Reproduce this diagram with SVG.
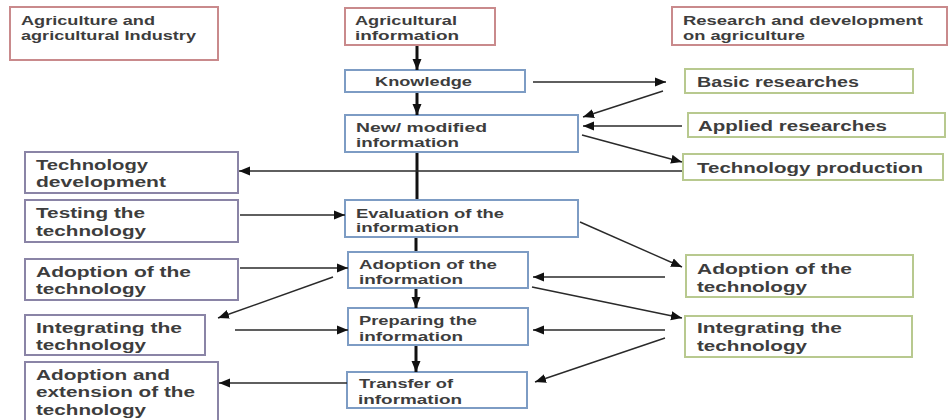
<svg xmlns="http://www.w3.org/2000/svg" width="951" height="420" viewBox="0 0 951 420">
<style>
rect{fill:#fff;stroke-width:2}
.r{stroke:#c98a8c}
.b{stroke:#7d9cc4}
.g{stroke:#b8c98f}
.p{stroke:#8a84a6}
text{font-family:"Liberation Sans",Arial,sans-serif;font-weight:bold;fill:#3d3d3d}
.s{font-size:13px}
.l{font-size:14.5px}
.c line{stroke:#2a2a2a;stroke-width:1.4}
.c line.t{stroke:#111;stroke-width:3}
</style>
<defs>
<marker id="a" markerUnits="userSpaceOnUse" markerWidth="12" markerHeight="10" refX="11" refY="5" orient="auto"><path d="M0,0.5 L11,5 L0,9.5 Z" fill="#111"/></marker>
</defs>
<rect width="951" height="420" fill="#fff" stroke="none"/>
<g id="agri-industry"><rect class="r" x="10" y="7" width="208" height="53"/><text class="s" x="21" y="25" textLength="134" lengthAdjust="spacingAndGlyphs">Agriculture and</text><text class="s" x="21" y="40" textLength="175" lengthAdjust="spacingAndGlyphs">agricultural Industry</text></g>
<g id="agri-info"><rect class="r" x="345" y="8" width="150" height="37"/><text class="s" x="355" y="25" textLength="102" lengthAdjust="spacingAndGlyphs">Agricultural</text><text class="s" x="355" y="40" textLength="104" lengthAdjust="spacingAndGlyphs">information</text></g>
<g id="rnd"><rect class="r" x="672" y="7" width="275" height="38"/><text class="s" x="683" y="25" textLength="240" lengthAdjust="spacingAndGlyphs">Research and development</text><text class="s" x="683" y="40" textLength="122" lengthAdjust="spacingAndGlyphs">on agriculture</text></g>
<g id="knowledge"><rect class="b" x="345" y="70" width="180" height="22"/><text class="s" x="375" y="86" textLength="97" lengthAdjust="spacingAndGlyphs">Knowledge</text></g>
<g id="new-info"><rect class="b" x="345" y="115" width="233" height="37"/><text class="s" x="356" y="132" textLength="131" lengthAdjust="spacingAndGlyphs">New/ modified</text><text class="s" x="356" y="147" textLength="103" lengthAdjust="spacingAndGlyphs">information</text></g>
<g id="basic"><rect class="g" x="685" y="69" width="228" height="24"/><text class="l" x="697" y="87" textLength="162" lengthAdjust="spacingAndGlyphs">Basic researches</text></g>
<g id="applied"><rect class="g" x="688" y="113" width="257" height="24"/><text class="l" x="698" y="131" textLength="189" lengthAdjust="spacingAndGlyphs">Applied researches</text></g>
<g id="tech-prod"><rect class="g" x="683" y="154" width="260" height="26"/><text class="l" x="697" y="173" textLength="226" lengthAdjust="spacingAndGlyphs">Technology production</text></g>
<g id="tech-dev"><rect class="p" x="25" y="152" width="213" height="41"/><text class="l" x="36" y="170" textLength="112" lengthAdjust="spacingAndGlyphs">Technology</text><text class="l" x="36" y="187" textLength="130" lengthAdjust="spacingAndGlyphs">development</text></g>
<g id="testing"><rect class="p" x="25" y="200" width="213" height="42"/><text class="l" x="36" y="218" textLength="109" lengthAdjust="spacingAndGlyphs">Testing the</text><text class="l" x="36" y="236" textLength="110" lengthAdjust="spacingAndGlyphs">technology</text></g>
<g id="adopt-tech-l"><rect class="p" x="25" y="259" width="213" height="41"/><text class="l" x="36" y="277" textLength="155" lengthAdjust="spacingAndGlyphs">Adoption of the</text><text class="l" x="36" y="294" textLength="110" lengthAdjust="spacingAndGlyphs">technology</text></g>
<g id="integ-tech-l"><rect class="p" x="25" y="315" width="180" height="40"/><text class="l" x="36" y="333" textLength="146" lengthAdjust="spacingAndGlyphs">Integrating the</text><text class="l" x="36" y="350" textLength="110" lengthAdjust="spacingAndGlyphs">technology</text></g>
<g id="adopt-ext"><rect class="p" x="25" y="362" width="193" height="62"/><text class="l" x="36" y="380" textLength="134" lengthAdjust="spacingAndGlyphs">Adoption and</text><text class="l" x="36" y="397" textLength="159" lengthAdjust="spacingAndGlyphs">extension of the</text><text class="l" x="36" y="415" textLength="110" lengthAdjust="spacingAndGlyphs">technology</text></g>
<g id="eval"><rect class="b" x="345" y="200" width="233" height="37"/><text class="s" x="356" y="218" textLength="148" lengthAdjust="spacingAndGlyphs">Evaluation of the</text><text class="s" x="356" y="232" textLength="103" lengthAdjust="spacingAndGlyphs">information</text></g>
<g id="adopt-info"><rect class="b" x="348" y="252" width="180" height="36"/><text class="s" x="359" y="269" textLength="138" lengthAdjust="spacingAndGlyphs">Adoption of the</text><text class="s" x="359" y="284" textLength="104" lengthAdjust="spacingAndGlyphs">information</text></g>
<g id="prep"><rect class="b" x="348" y="308" width="180" height="37"/><text class="s" x="359" y="325" textLength="118" lengthAdjust="spacingAndGlyphs">Preparing the</text><text class="s" x="359" y="341" textLength="104" lengthAdjust="spacingAndGlyphs">information</text></g>
<g id="transfer"><rect class="b" x="347" y="372" width="180" height="36"/><text class="s" x="359" y="388" textLength="94" lengthAdjust="spacingAndGlyphs">Transfer of</text><text class="s" x="358" y="404" textLength="104" lengthAdjust="spacingAndGlyphs">information</text></g>
<g id="adopt-tech-r"><rect class="g" x="686" y="255" width="227" height="42"/><text class="l" x="697" y="274" textLength="155" lengthAdjust="spacingAndGlyphs">Adoption of the</text><text class="l" x="697" y="292" textLength="110" lengthAdjust="spacingAndGlyphs">technology</text></g>
<g id="integ-tech-r"><rect class="g" x="685" y="316" width="227" height="41"/><text class="l" x="697" y="333" textLength="145" lengthAdjust="spacingAndGlyphs">Integrating the</text><text class="l" x="697" y="351" textLength="110" lengthAdjust="spacingAndGlyphs">technology</text></g>
<g id="connectors" class="c">
<line class="t" x1="417" y1="46" x2="417" y2="70" marker-end="url(#a)"/>
<line class="t" x1="417" y1="93" x2="417" y2="115" marker-end="url(#a)"/>
<line class="t" x1="417" y1="153" x2="417" y2="199"/>
<line class="t" x1="416" y1="238" x2="416" y2="251"/>
<line class="t" x1="416" y1="289" x2="416" y2="308" marker-end="url(#a)"/>
<line class="t" x1="416" y1="346" x2="416" y2="372" marker-end="url(#a)"/>
<line x1="533" y1="82" x2="666" y2="82" marker-end="url(#a)"/>
<line x1="663" y1="91" x2="583" y2="117" marker-end="url(#a)"/>
<line x1="682" y1="126" x2="583" y2="126" marker-end="url(#a)"/>
<line x1="582" y1="135" x2="682" y2="162" marker-end="url(#a)"/>
<line x1="682" y1="171" x2="239" y2="171" marker-end="url(#a)"/>
<line x1="240" y1="215" x2="345" y2="215" marker-end="url(#a)"/>
<line x1="240" y1="268" x2="348" y2="268" marker-end="url(#a)"/>
<line x1="333" y1="277" x2="218" y2="318" marker-end="url(#a)"/>
<line x1="235" y1="330" x2="348" y2="330" marker-end="url(#a)"/>
<line x1="347" y1="383" x2="219" y2="383" marker-end="url(#a)"/>
<line x1="580" y1="222" x2="682" y2="267" marker-end="url(#a)"/>
<line x1="665" y1="277" x2="533" y2="277" marker-end="url(#a)"/>
<line x1="532" y1="287" x2="682" y2="318" marker-end="url(#a)"/>
<line x1="665" y1="330" x2="533" y2="330" marker-end="url(#a)"/>
<line x1="665" y1="338" x2="535" y2="382" marker-end="url(#a)"/>
</g>
</svg>
